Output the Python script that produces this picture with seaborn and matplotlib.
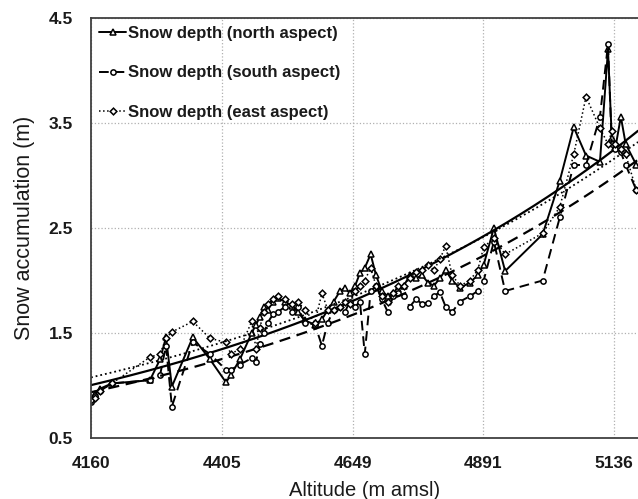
import numpy as np
import pandas as pd
import seaborn as sns
import matplotlib.pyplot as plt

# altitude of each sampling point (m amsl)
altitude = [4160, 4167, 4177, 4199, 4270, 4289, 4300, 4311, 4350, 4382,
            4412, 4421, 4438, 4460, 4468, 4475, 4483, 4490, 4500, 4509,
            4522, 4535, 4546, 4559, 4578, 4591, 4602, 4613, 4625, 4634,
            4643, 4653, 4662, 4671, 4682, 4692, 4703, 4714, 4724, 4733,
            4744, 4755, 4766, 4778, 4789, 4800, 4811, 4822, 4834, 4849,
            4867, 4882, 4893, 4912, 4933, 5003, 5035, 5061, 5084, 5110,
            5125, 5132, 5139, 5149, 5158, 5178]

north = [0.86, 0.92, 0.97, 1.02, 1.05, 1.25, 1.46, 0.99, 1.46, 1.25,
         1.03, 1.10, 1.25, 1.50, 1.58, 1.65, 1.75, 1.72, 1.80, 1.83,
         1.80, 1.76, 1.70, 1.62, 1.58, 1.63, 1.72, 1.80, 1.90, 1.93,
         1.88, 1.95, 2.07, 2.12, 2.25, 2.05, 1.90, 1.85, 1.88, 1.92,
         1.95, 2.05, 2.02, 2.05, 1.98, 1.95, 2.02, 2.10, 2.00, 1.93,
         1.98, 2.05, 2.15, 2.50, 2.09, 2.44, 2.95, 3.46, 3.19, 3.13,
         4.20, 3.36, 3.27, 3.56, 3.30, 3.10]

south = [0.84, 0.90, 0.95, 1.02, 1.05, 1.10, 1.38, 0.80, 1.41, 1.30,
         1.15, 1.15, 1.20, 1.26, 1.22, 1.40, 1.50, 1.60, 1.68, 1.70,
         1.75, 1.70, 1.75, 1.60, 1.58, 1.38, 1.60, 1.72, 1.75, 1.70,
         1.80, 1.75, 1.80, 1.30, 1.90, 1.95, 1.82, 1.70, 1.85, 1.88,
         1.85, 1.75, 1.82, 1.78, 1.79, 1.85, 1.89, 1.75, 1.70, 1.80,
         1.85, 1.90, 2.00, 2.37, 1.90, 2.00, 2.60, 3.10, 3.10, 3.56,
         4.25, 3.30, 3.25, 3.22, 3.10, 2.86]

east = [0.86, 0.88, 0.95, 1.02, 1.27, 1.30, 1.45, 1.51, 1.61, 1.45,
        1.41, 1.30, 1.35, 1.61, 1.35, 1.55, 1.70, 1.78, 1.82, 1.85,
        1.82, 1.78, 1.80, 1.72, 1.60, 1.88, 1.72, 1.72, 1.75, 1.80,
        1.78, 1.90, 1.95, 2.00, 2.12, 1.95, 1.85, 1.80, 1.88, 1.95,
        1.95, 2.02, 2.08, 2.10, 2.15, 2.10, 2.20, 2.33, 2.05, 1.95,
        2.00, 2.10, 2.32, 2.40, 2.25, 2.45, 2.70, 3.20, 3.75, 3.45,
        3.30, 3.42, 3.30, 3.25, 3.20, 2.86]

x_ticks = [4160, 4405, 4649, 4891, 5136]
y_ticks = [0.5, 1.5, 2.5, 3.5, 4.5]

df = pd.DataFrame({'alt': altitude, 'north': north, 'south': south, 'east': east})

sns.set_style('white')
plt.rcParams['font.family'] = ['Liberation Sans', 'DejaVu Sans']

fig = plt.figure(figsize=(6.38, 4.99), dpi=100)
ax = fig.add_axes([0.1426, 0.1222, 0.8574, 0.8418])

styles = {
    'north': dict(ls='-', lw=1.4, marker='^', ms=4.6, label='Snow depth (north aspect)'),
    'south': dict(ls=(0, (5, 3)), lw=1.4, marker='o', ms=3.8, label='Snow depth (south aspect)'),
    'east': dict(ls=':', lw=1.1, marker='D', ms=3.4, label='Snow depth (east aspect)'),
}

xfit = np.linspace(4160, 5181, 200)
for col, st in styles.items():
    sns.lineplot(data=df, x='alt', y=col, ax=ax, color='black', linestyle=st['ls'],
                 linewidth=st['lw'], marker=st['marker'], markersize=st['ms'],
                 markerfacecolor='white', markeredgecolor='black', markeredgewidth=1.1,
                 label=st['label'], sort=False)
    # exponential trend line, like the spreadsheet one
    b, a = np.polyfit(df['alt'], np.log(df[col]), 1)
    sns.lineplot(x=xfit, y=np.exp(a) * np.exp(b * xfit), ax=ax, color='black',
                 linestyle=st['ls'], linewidth=st['lw'] + 0.2, legend=False)

ax.set_xlim(4160, 5181)
ax.set_ylim(0.5, 4.5)
ax.set_xticks(x_ticks)
ax.set_yticks(y_ticks)
ax.set_xticklabels([str(v) for v in x_ticks], fontsize=12.5, fontweight='bold', color='#1a1a1a')
ax.set_yticklabels([str(v) for v in y_ticks], fontsize=12.5, fontweight='bold', color='#1a1a1a')
ax.grid(True, color='#b0b0b0', linestyle=':', linewidth=0.9)
ax.tick_params(axis='y', length=4, color='#808080', pad=9)
ax.tick_params(axis='x', length=4, color='#b0b0b0', pad=9)

for side in ['left', 'top', 'bottom']:
    ax.spines[side].set_color('#404040')
    ax.spines[side].set_linewidth(1.3)
ax.spines['right'].set_visible(False)

ax.set_xlabel('Altitude (m amsl)', fontsize=14.5, labelpad=7, color='#1a1a1a')
ax.set_ylabel('Snow accumulation (m)', fontsize=15.5, labelpad=10, color='#1a1a1a')

leg = ax.legend(loc='upper left', bbox_to_anchor=(0.0, 1.0), frameon=False,
                prop={'weight': 'bold', 'size': 12}, handlelength=1.6, handletextpad=0.15,
                labelspacing=1.45, borderaxespad=0.3, borderpad=0.2)
for t in leg.get_texts():
    t.set_color('#1a1a1a')

plt.savefig('out.png', dpi=100)
